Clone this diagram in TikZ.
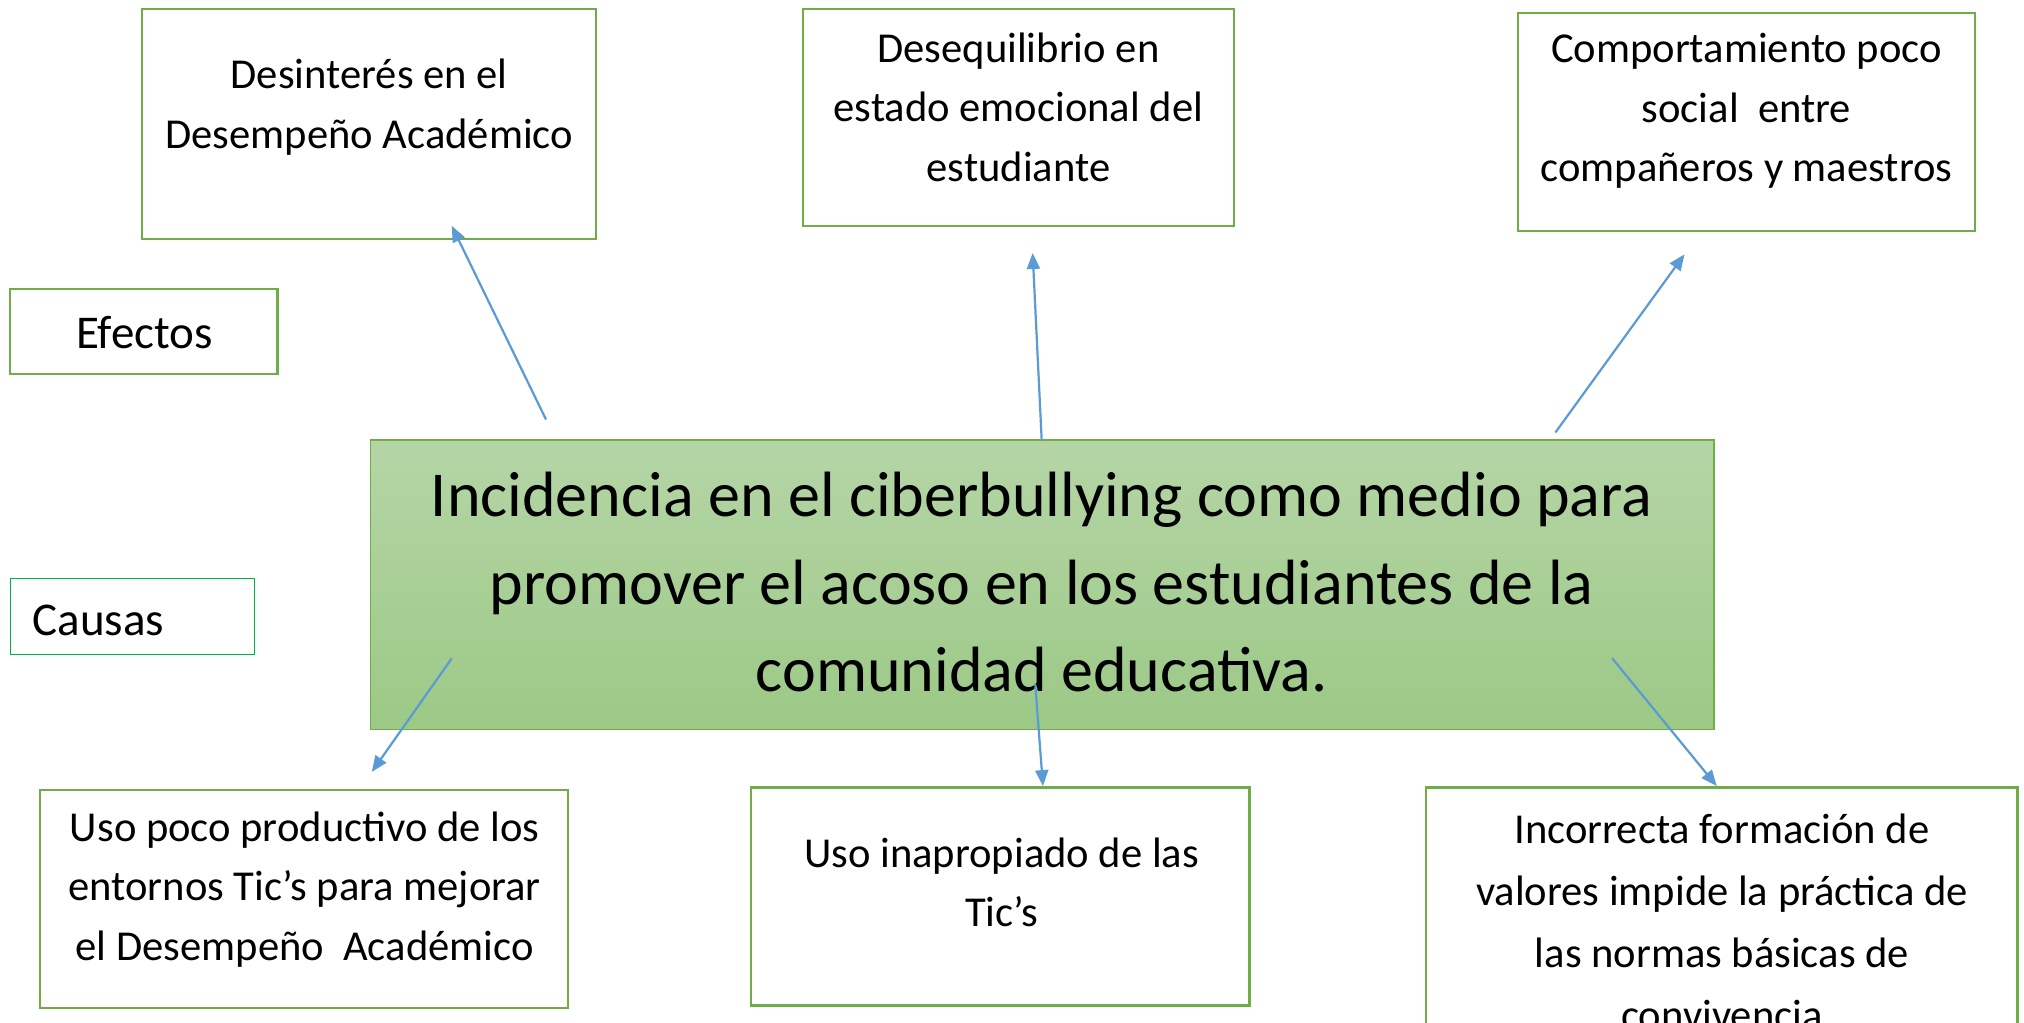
\documentclass[tikz,border=0pt]{standalone}
\usepackage{fontspec}
\setmainfont{Carlito}
\usetikzlibrary{arrows.meta}
\newdimen\pxu \pxu=0.6454pt
\definecolor{boxgreen}{HTML}{70AD47}
\definecolor{labgreen}{HTML}{00B050}
\definecolor{arrblue}{HTML}{5B9BD5}
\definecolor{topgreen}{HTML}{B5D5A6}
\definecolor{botgreen}{HTML}{9CC986}
\tikzset{
  box/.style={draw=boxgreen, line width=1.1pt, fill=white, inner sep=0pt},
  labbox/.style={draw=boxgreen, line width=1.1pt, fill=white, inner sep=0pt},
  causbox/.style={draw=labgreen, line width=0.6pt, fill=white, inner sep=0pt},
  mainbox/.style={draw=boxgreen, line width=0.8pt, top color=topgreen, bottom color=botgreen, inner sep=0pt},
  txt/.style={align=center, inner sep=0pt, font=\fontsize{21.3}{29.7}\selectfont},
  labtxt/.style={inner sep=0pt, font=\fontsize{23.5}{28}\selectfont},
  maintxt/.style={align=center, inner sep=0pt, font=\fontsize{32}{43.9}\selectfont},
  arr/.style={draw=arrblue, line width=1.1pt, -{Triangle[length=8pt,width=6.5pt]}}
}
\begin{document}
\begin{tikzpicture}[x=\pxu, y=-\pxu]
\useasboundingbox (0,0) rectangle (1568,792);
\clip (0,0) rectangle (1568,792);
\fill[white] (0,0) rectangle (1568,792);
% effect boxes
\node[box, minimum width=352\pxu, minimum height=178\pxu] (b1) at (286,96) {};
\node[txt] (t1) at (286,83) {Desinterés en el\\Desempeño Académico};
\node[box, minimum width=334\pxu, minimum height=168\pxu] (b2) at (789,91) {};
\node[txt] (t2) at (789,83) {Desequilibrio en\\estado emocional del\\estudiante};
\node[box, minimum width=354\pxu, minimum height=169\pxu] (b3) at (1353,94.5) {};
\node[txt] (t3) at (1353,86) {Comportamiento poco\\social\ \ entre\\compañeros y maestros};
% labels
\node[labbox, minimum width=207\pxu, minimum height=66\pxu] (ef) at (111.5,257) {};
\node[labtxt] (eft) at (112,258) {Efectos};
\node[causbox, minimum width=189\pxu, minimum height=59\pxu] (ca) at (102.5,477.5) {};
\node[labtxt, anchor=west] (cat) at (25,481) {Causas};
% main
\node[mainbox, minimum width=1041\pxu, minimum height=224\pxu] (main) at (807.5,453) {};
\node[maintxt] (mt) at (807,451) {Incidencia en el ciberbullying como medio para\\promover el acoso en los estudiantes de la\\comunidad educativa.};
% cause boxes
\node[box, minimum width=409\pxu, minimum height=169\pxu] (c1) at (235.5,696.5) {};
\node[txt] (ct1) at (236,689) {Uso poco productivo de los\\entornos Tic’s para mejorar\\el Desempeño\ \ Académico};
\node[box, minimum width=386\pxu, minimum height=169\pxu] (c2) at (775,694.5) {};
\node[txt] (ct2) at (776,683.5) {Uso inapropiado de las\\Tic’s};
\node[box, minimum width=458\pxu, minimum height=220\pxu] (c3) at (1334,720) {};
\node[txt, font=\fontsize{21.3}{31}\selectfont] (ct3) at (1334,714) {Incorrecta formación de\\valores impide la práctica de\\las normas básicas de\\convivencia};
% arrow ends
\coordinate (a1s) at (423,325); \coordinate (a1e) at (350,175);
\coordinate (a2s) at (807,341); \coordinate (a2e) at (800,196);
\coordinate (a3s) at (1205,335); \coordinate (a3e) at (1305,197);
\coordinate (a4s) at (350,510); \coordinate (a4e) at (288,598);
\coordinate (a5s) at (802,530); \coordinate (a5e) at (808,609);
\coordinate (a6s) at (1249,510); \coordinate (a6e) at (1330,609);
\draw[arr] (a1s) -- (a1e);
\draw[arr] (a2s) -- (a2e);
\draw[arr] (a3s) -- (a3e);
\draw[arr] (a4s) -- (a4e);
\draw[arr] (a5s) -- (a5e);
\draw[arr] (a6s) -- (a6e);
\end{tikzpicture}
\end{document}
